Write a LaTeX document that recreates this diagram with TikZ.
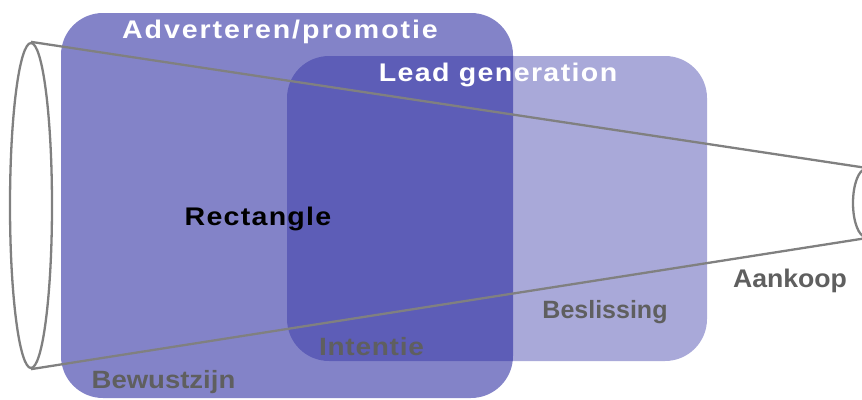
\documentclass[tikz,border=0pt]{standalone}
\usepackage{fontspec}
\setmainfont{Liberation Sans}
\usetikzlibrary{shapes.geometric}
\definecolor{bigfill}{RGB}{30,30,155}
\definecolor{funnelgrey}{RGB}{128,128,128}
\definecolor{labgrey}{RGB}{95,95,95}
\tikzset{
  zone/.style={rectangle, rounded corners=42pt, fill=bigfill, inner sep=0pt, draw=none},
  funnel/.style={draw=funnelgrey, line width=2.3pt},
  rim/.style={ellipse, funnel, fill=white, inner sep=0pt},
  lab/.style={anchor=base, inner sep=0pt, font={\fontsize{#1}{30}\selectfont\bfseries}},
}
\newcommand{\lsp}[2]{\addfontfeatures{FakeStretch=#1,LetterSpace=#2}}
\begin{document}
\begin{tikzpicture}[x=1pt,y=-1pt]
\useasboundingbox (0,0) rectangle (862,399);
\node[zone, fill opacity=0.55, minimum width=452pt, minimum height=385pt] (big) at (287,205.5) {};
\node[zone, fill opacity=0.38, minimum width=420pt, minimum height=305pt] (lead) at (497,208.5) {};
\node[rim, minimum width=42pt, minimum height=325pt] (le) at (31,205.5) {};
\node[rim, minimum width=26pt, minimum height=68pt] (re) at (866,203) {};
\draw[funnel] (le.north) -- (re.north);
\draw[funnel] (le.south) -- (re.south);
\node[lab=25.5, text=white] (t1) at (280,38) {\lsp{1.12}{7.6}Adverteren/promotie};
\node[lab=25.5, text=white] (t2) at (498,81) {\lsp{1.12}{5.4}Lead generation};
\node[lab=25.5, text=black] (t3) at (258,225) {\lsp{1.12}{5}Rectangle};
\node[lab=25.5, text=labgrey] (t4) at (790,287) {\lsp{1.045}{0}Aankoop};
\node[lab=25, text=labgrey] (t5) at (163.5,388) {\lsp{1.1}{0}Bewustzijn};
\node[lab=25, text=labgrey] (t6) at (605,318) {\lsp{1.0}{0}Beslissing};
\node[lab=25, text=labgrey] (t7) at (371.5,355) {\lsp{1.12}{3}Intentie};
\end{tikzpicture}
\end{document}
